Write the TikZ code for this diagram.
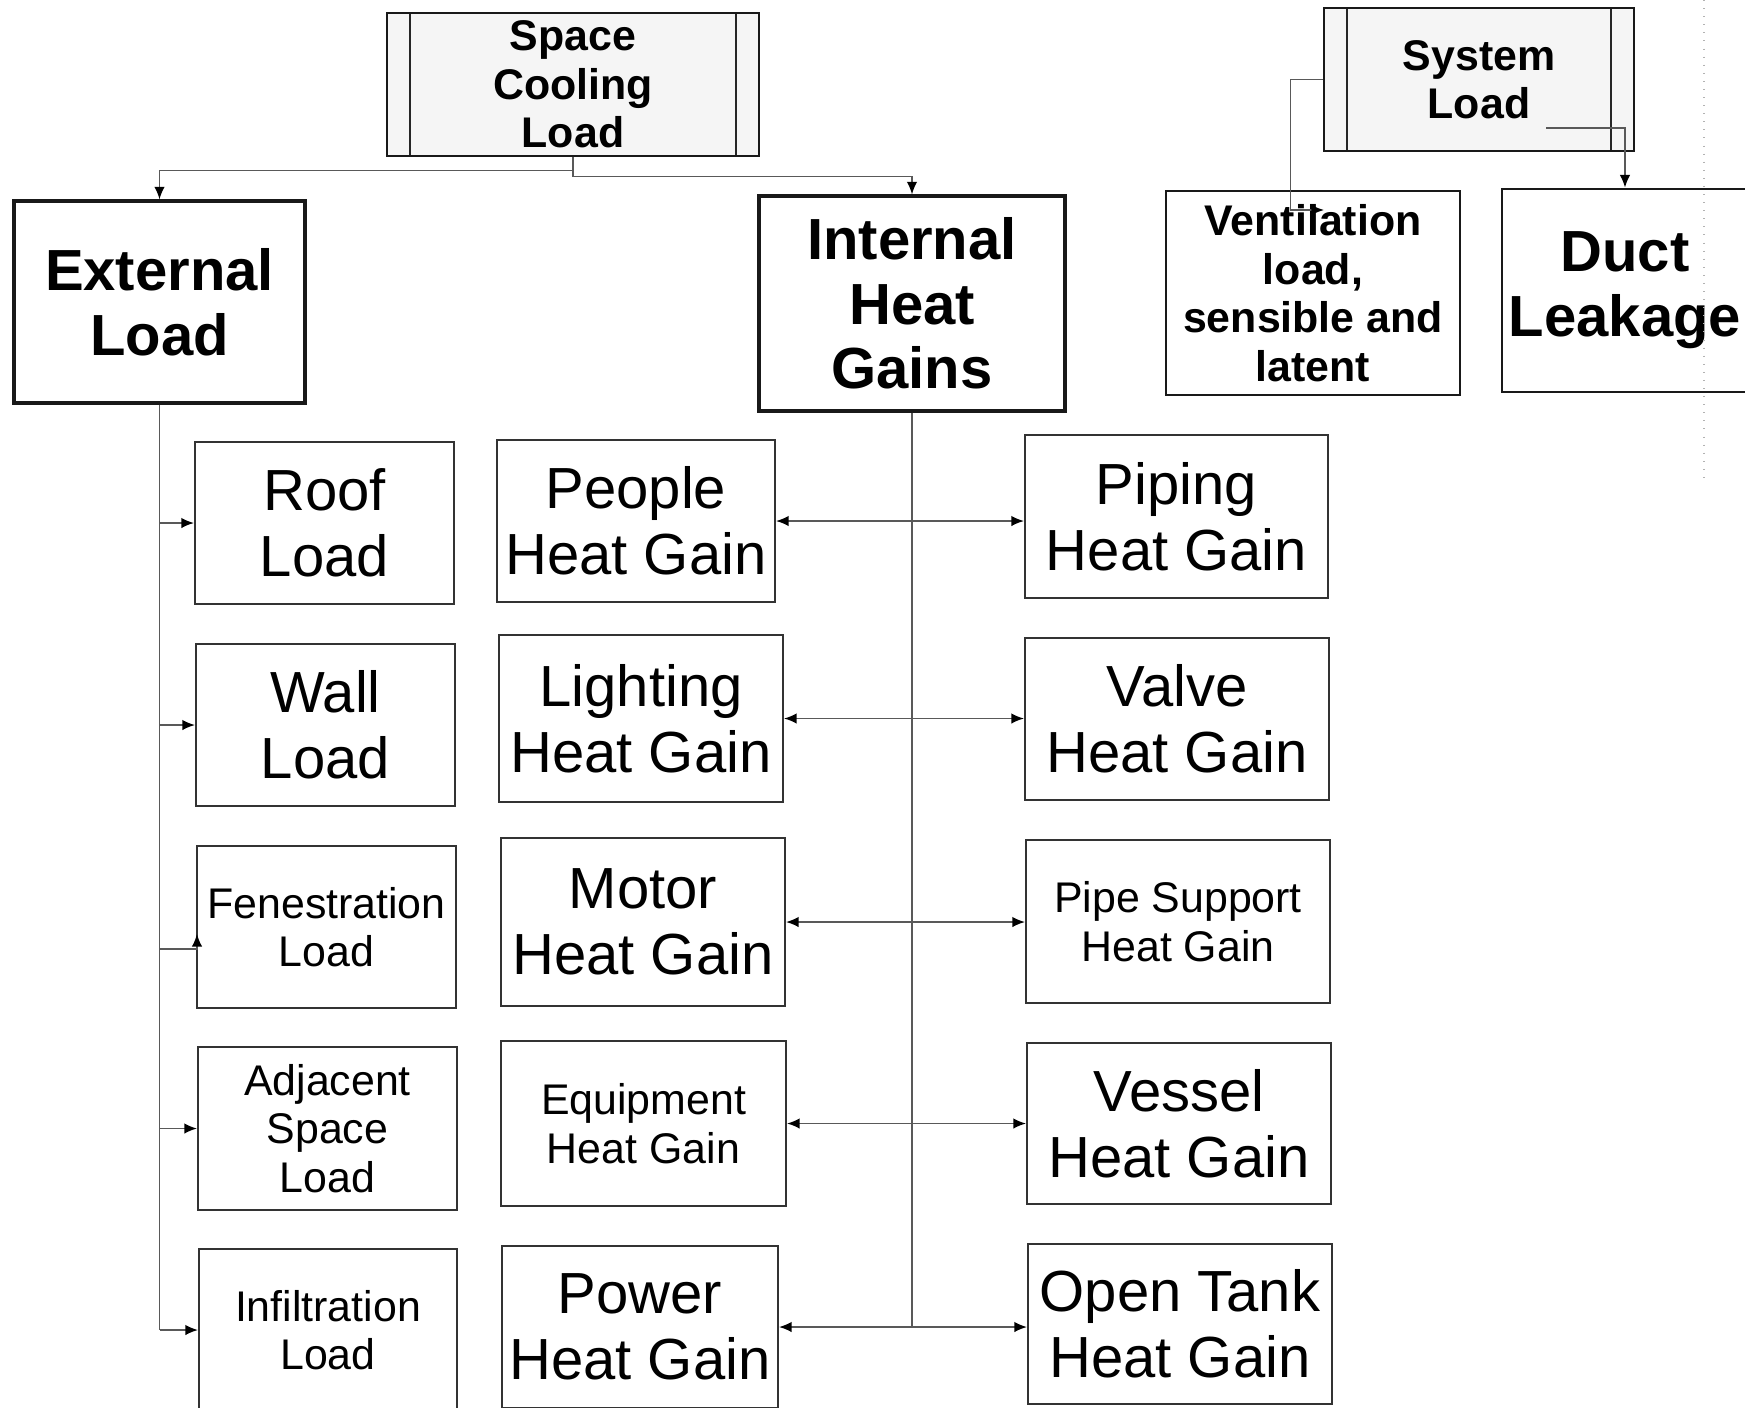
\documentclass[tikz,border=0pt]{standalone}
\usepackage{fontspec}
\setmainfont{Liberation Sans}
\usetikzlibrary{arrows.meta}

\tikzset{
  wh/.style 2 args={minimum width=#1cm, minimum height=#2cm},
  box/.style={draw=black!80, line width=0.6pt, align=center, inner sep=0pt,
    font=\fontsize{16.5}{18.7}\selectfont},
  sbox/.style={box, font=\fontsize{12.2}{13.8}\selectfont},
  head/.style={draw=black!90, line width=0.9pt, align=center, inner sep=0pt,
    font=\bfseries\fontsize{16.5}{18.4}\selectfont},
  shead/.style={head, line width=0.8pt, font=\bfseries\fontsize{12.2}{13.8}\selectfont},
  proc/.style={shead, fill=black!4,
    path picture={
      \draw[black!85, line width=0.8pt]
        ([xshift=0.23cm]path picture bounding box.north west) --
        ([xshift=0.23cm]path picture bounding box.south west)
        ([xshift=-0.23cm]path picture bounding box.north east) --
        ([xshift=-0.23cm]path picture bounding box.south east);
    }},
  conn/.style={draw=black!65, line width=0.45pt},
  arr/.style={conn, -{Latex[length=3.6pt,width=3pt,color=black]}},
}

\begin{document}
\begin{tikzpicture}
    \useasboundingbox (0,0) rectangle (17.45,-14.08);

    % Load types
    \node[proc, wh={3.72}{1.43}] (scl) at (5.73,-0.845) {Space\\Cooling\\Load};
    \node[proc, wh={3.10}{1.43}] (sys) at (14.79,-0.795) {System\\Load};

    \node[head, wh={2.91}{2.02}] (ext) at (1.595,-3.02) {External\\Load};
    \node[head, wh={3.06}{2.15}] (ihg) at (9.12,-3.035) {Internal\\Heat\\Gains};
    \node[shead, wh={2.94}{2.04}] (vent) at (13.13,-2.93) {Ventilation\\load,\\sensible and\\latent};
    \node[head, line width=0.8pt, wh={2.46}{2.03}] (duct) at (16.25,-2.905) {Duct\\Leakage};

    % External loads
    \node[box, wh={2.59}{1.62}] (roof) at (3.245,-5.23) {Roof\\Load};
    \node[box, wh={2.59}{1.62}] (wall) at (3.255,-7.25) {Wall\\Load};
    \node[sbox, wh={2.59}{1.62}] (fen) at (3.265,-9.27) {Fenestration\\Load};
    \node[sbox, wh={2.59}{1.63}] (adj) at (3.275,-11.285) {Adjacent\\Space\\Load};
    \node[sbox, wh={2.58}{1.62}] (infil) at (3.28,-13.30) {Infiltration\\Load};

    % Internal gains
    \node[box, wh={2.78}{1.62}] (people) at (6.36,-5.21) {People\\Heat Gain};
    \node[box, wh={2.84}{1.67}] (light) at (6.41,-7.185) {Lighting\\Heat Gain};
    \node[box, wh={2.84}{1.68}] (motor) at (6.43,-9.22) {Motor\\Heat Gain};
    \node[sbox, wh={2.85}{1.65}] (equip) at (6.435,-11.235) {Equipment\\Heat Gain};
    \node[box, wh={2.76}{1.62}] (power) at (6.40,-13.27) {Power\\Heat Gain};

    \node[box, wh={3.03}{1.63}] (piping) at (11.765,-5.165) {Piping\\Heat Gain};
    \node[box, wh={3.04}{1.62}] (valve) at (11.77,-7.19) {Valve\\Heat Gain};
    \node[sbox, wh={3.04}{1.63}] (pipesup) at (11.78,-9.215) {Pipe Support\\Heat Gain};
    \node[box, wh={3.04}{1.61}] (vessel) at (11.79,-11.235) {Vessel\\Heat Gain};
    \node[box, wh={3.04}{1.60}] (tank) at (11.80,-13.24) {Open Tank\\Heat Gain};

    % Connectors from the top
    \draw[arr] (scl.south) -- ++(0,-0.13) -| (ext.north);
    \draw[arr] (scl.south) -- ++(0,-0.19) -| (ihg.north);

    \coordinate (ventin) at (13.24,-2.10);
    \coordinate (sysout) at (15.46,-1.28);
    \draw[arr] (sys.west) -- ++(-0.32,0) |- (ventin);
    \draw[arr] (sysout) -| (duct.north);

    % External branch
    \draw[conn] (ext.south) -- (ext.south |- infil.west);
    \foreach \n in {roof,wall,adj,infil}
        \draw[arr] (ext.south |- \n.west) -- (\n.west);
    \coordinate (fenin) at (1.97,-9.34);
    \draw[arr] (ext.south |- fenin) ++(0,-0.15) -| (fenin);

    % Internal branch
    \draw[conn] (ihg.south) -- (ihg.south |- power.east);
    \foreach \l/\r in {people/piping, light/valve, motor/pipesup, equip/vessel, power/tank} {
        \draw[arr] (ihg.south |- \l.east) -- (\l.east);
        \draw[arr] (ihg.south |- \l.east) -- (\r.west |- \l.east);
    }

    % Page guide
    \draw[black!30, dotted, line width=0.3pt] (17.04,0) -- (17.04,-4.8);

\end{tikzpicture}
\end{document}
